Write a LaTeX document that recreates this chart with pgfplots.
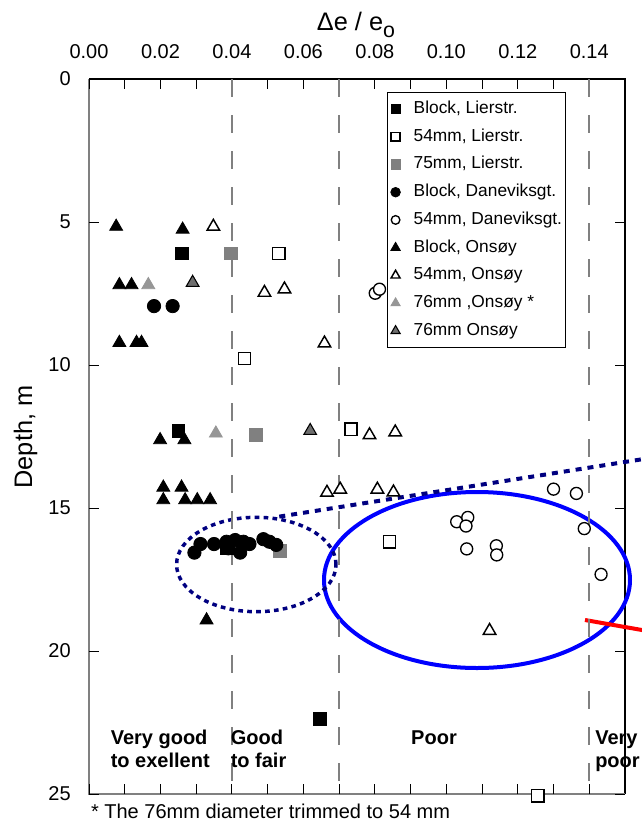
\documentclass[border=0pt]{standalone}
\usepackage{fontspec}
\setmainfont{Liberation Sans}
\usepackage{pgfplots}
\pgfplotsset{compat=1.18}

\definecolor{refgray}{RGB}{128,128,128}
\definecolor{sqgray}{RGB}{128,128,128}
\definecolor{trilight}{RGB}{150,150,150}
\definecolor{tridark}{RGB}{110,110,110}
\definecolor{navydot}{RGB}{0,0,128}

% one drawing unit
\def\pxu{0.75pt}

\pgfplotstableread{
x d
0.0260 6.10
0.0250 12.30
0.0385 16.40
0.0647 22.38
}\blockLier
\pgfplotstableread{
x d
0.0531 6.10
0.0435 9.77
0.0733 12.25
0.0841 16.18
0.1256 25.06
}\fiftyLier
\pgfplotstableread{
x d
0.0397 6.10
0.0468 12.43
0.0535 16.49
}\seventyLier
\pgfplotstableread{
x d
0.0182 7.94
0.0234 7.94
0.0295 16.56
0.0312 16.26
0.0350 16.26
0.0385 16.18
0.0390 16.41
0.0409 16.12
0.0423 16.56
0.0432 16.18
0.0449 16.26
0.0488 16.09
0.0505 16.18
0.0524 16.29
}\blockDan
\pgfplotstableread{
x d
0.0801 7.49
0.0813 7.35
0.1029 15.48
0.1060 15.33
0.1055 15.63
0.1057 16.43
0.1140 16.32
0.1141 16.64
0.1300 14.34
0.1364 14.49
0.1386 15.72
0.1433 17.32
}\fiftyDan
\pgfplotstableread{
x d
0.0076 5.16
0.0262 5.26
0.0085 7.20
0.0119 7.20
0.0085 9.22
0.0133 9.22
0.0147 9.22
0.0199 12.62
0.0267 12.62
0.0208 14.28
0.0259 14.28
0.0208 14.72
0.0269 14.72
0.0303 14.72
0.0339 14.72
0.0329 18.92
}\blockOns
\pgfplotstableread{
x d
0.0348 5.16
0.0491 7.47
0.0547 7.35
0.0659 9.24
0.0785 12.45
0.0857 12.35
0.0666 14.46
0.0703 14.35
0.0807 14.35
0.0852 14.45
0.1121 19.29
}\fiftyOns
\pgfplotstableread{
x d
0.0166 7.20
0.0355 12.39
}\trimOns
\pgfplotstableread{
x d
0.0290 7.12
0.0619 12.30
}\seventysixOns

\begin{document}
\begin{tikzpicture}
\path[use as bounding box] (0,0) rectangle (481.5pt,-615.75pt);
\clip (0,0) rectangle (481.5pt,-615.75pt);

% frame: black top and right, grey left and bottom
\draw[black, line width=0.8pt] (89*\pxu,-79*\pxu) -- (625*\pxu,-79*\pxu) -- (625*\pxu,-794*\pxu);
\draw[refgray, line width=0.9pt] (89*\pxu,-79*\pxu) -- (89*\pxu,-794*\pxu) -- (625*\pxu,-794*\pxu);

% highlighted groups
\draw[blue, line width=3pt] (477*\pxu,-580*\pxu) ellipse [x radius=153*\pxu, y radius=88*\pxu];
\draw[navydot, line width=2.6pt, dash pattern=on 3.5pt off 3.2pt] (256.3*\pxu,-564.5*\pxu) ellipse [x radius=79.7*\pxu, y radius=47.2*\pxu];
\draw[navydot, line width=3pt, dash pattern=on 4.5pt off 4.5pt] (279.3*\pxu,-516.6*\pxu) -- (700*\pxu,-450.1*\pxu);
\draw[red, line width=3pt] (585*\pxu,-620*\pxu) -- (700*\pxu,-640.2*\pxu);

\begin{axis}[
  at={(89*\pxu,-79*\pxu)}, anchor=north west,
  scale only axis, width=402pt, height=536.25pt,
  xmin=0, xmax=0.15, ymin=0, ymax=25, y dir=reverse,
  clip=false,
  axis line style={draw=none},
  xtick={0,0.02,0.04,0.06,0.08,0.1,0.12,0.14},
  xticklabels={0.00,0.02,0.04,0.06,0.08,0.10,0.12,0.14},
  minor xtick={0.01,0.03,0.05,0.07,0.09,0.11,0.13},
  ytick={0,5,10,15,20,25},
  tick align=inside,
  major tick length=7.5pt, minor tick length=7.5pt,
  tick style={black, line width=0.75pt},
  xticklabel pos=upper,
  tick label style={font=\fontsize{15}{18}\selectfont},
  /pgf/number format/assume math mode=true,
  xticklabel style={anchor=south, inner sep=0pt, yshift=14.7pt},
  yticklabel style={anchor=east, inner sep=0pt, xshift=-13.5pt},
  legend style={
    at={(axis cs:0.08337,0.4545)}, anchor=north west,
    draw=black, fill=white,
    font=\fontsize{13}{15}\selectfont,
    inner xsep=2.7pt, inner ysep=6.3pt,
    row sep=8.3pt, column sep=10pt,
    nodes={inner sep=0pt, text height=9.5pt, text depth=3pt},
    cells={anchor=west},
  },
  legend image code/.code={
    \draw[mark repeat=2, mark phase=2, #1, every mark/.append style={scale=0.72}]
      plot coordinates {(0pt,0pt) (6pt,0pt) (12pt,0pt)};
  },
]
% quality class boundaries
\draw[refgray, line width=1.3pt, dash pattern=on 13.5pt off 13.5pt] (axis cs:0.04,0) -- (axis cs:0.04,25);
\draw[refgray, line width=1.3pt, dash pattern=on 13.5pt off 13.5pt] (axis cs:0.07,0) -- (axis cs:0.07,25);
\draw[refgray, line width=1.3pt, dash pattern=on 13.5pt off 13.5pt] (axis cs:0.14,0) -- (axis cs:0.14,25);

\addplot[only marks, mark=square*, mark size=4.8pt, mark options={draw=black, fill=black, line width=0.6pt}] table[x=x, y=d] {\blockLier};
\addlegendentry{Block, Lierstr.}
\addplot[only marks, mark=square*, mark size=4.6pt, mark options={draw=black, fill=white, line width=1.1pt}] table[x=x, y=d] {\fiftyLier};
\addlegendentry{54mm, Lierstr.}
\addplot[only marks, mark=square*, mark size=4.8pt, mark options={draw=sqgray, fill=sqgray, line width=0.6pt}] table[x=x, y=d] {\seventyLier};
\addlegendentry{75mm, Lierstr.}
\addplot[only marks, mark=*, mark size=5pt, mark options={draw=black, fill=black, line width=0.6pt}] table[x=x, y=d] {\blockDan};
\addlegendentry{Block, Daneviksgt.}
\addplot[only marks, mark=*, mark size=4.5pt, mark options={draw=black, fill=white, line width=1pt}] table[x=x, y=d] {\fiftyDan};
\addlegendentry{54mm, Daneviksgt.}
\addplot[only marks, mark=triangle*, mark size=5.6pt, mark options={draw=black, fill=black, line width=0.6pt}] table[x=x, y=d] {\blockOns};
\addlegendentry{Block, Onsøy}
\addplot[only marks, mark=triangle*, mark size=5.4pt, mark options={draw=black, fill=white, line width=1.1pt}] table[x=x, y=d] {\fiftyOns};
\addlegendentry{54mm, Onsøy}
\addplot[only marks, mark=triangle*, mark size=5.6pt, mark options={draw=trilight, fill=trilight, line width=0.6pt}] table[x=x, y=d] {\trimOns};
\addlegendentry{76mm ,Onsøy *}
\addplot[only marks, mark=triangle*, mark size=5.5pt, mark options={draw=black, fill=tridark, line width=0.8pt}] table[x=x, y=d] {\seventysixOns};
\addlegendentry{76mm Onsøy}
\end{axis}

% axis titles
\node[anchor=base, inner sep=0pt, font=\fontsize{19}{22}\selectfont] at (356*\pxu,-30*\pxu) {Δe / e\raisebox{-0.3em}{\fontsize{16}{16}\selectfont o}};
\node[rotate=90, anchor=base, inner sep=0pt, font=\fontsize{19}{22}\selectfont] at (32*\pxu,-437*\pxu) {Depth, m};

% quality classes
\begin{scope}[every node/.style={inner sep=0pt, font=\bfseries\fontsize{15}{18}\selectfont}]
\node[anchor=base west] at (110.5*\pxu,-744*\pxu) {Very good};
\node[anchor=base west] at (110.5*\pxu,-767*\pxu) {to exellent};
\node[anchor=base west] at (230.5*\pxu,-744*\pxu) {Good};
\node[anchor=base west] at (230.5*\pxu,-767*\pxu) {to fair};
\node[anchor=base] at (434*\pxu,-744*\pxu) {Poor};
\node[anchor=base west] at (595*\pxu,-744*\pxu) {Very};
\node[anchor=base west] at (595*\pxu,-767*\pxu) {poor};
\end{scope}

\node[anchor=base west, inner sep=0pt, font=\fontsize{15}{18}\selectfont] at (90.8*\pxu,-818.5*\pxu) {* The 76mm diameter trimmed to 54 mm};
\end{tikzpicture}
\end{document}
